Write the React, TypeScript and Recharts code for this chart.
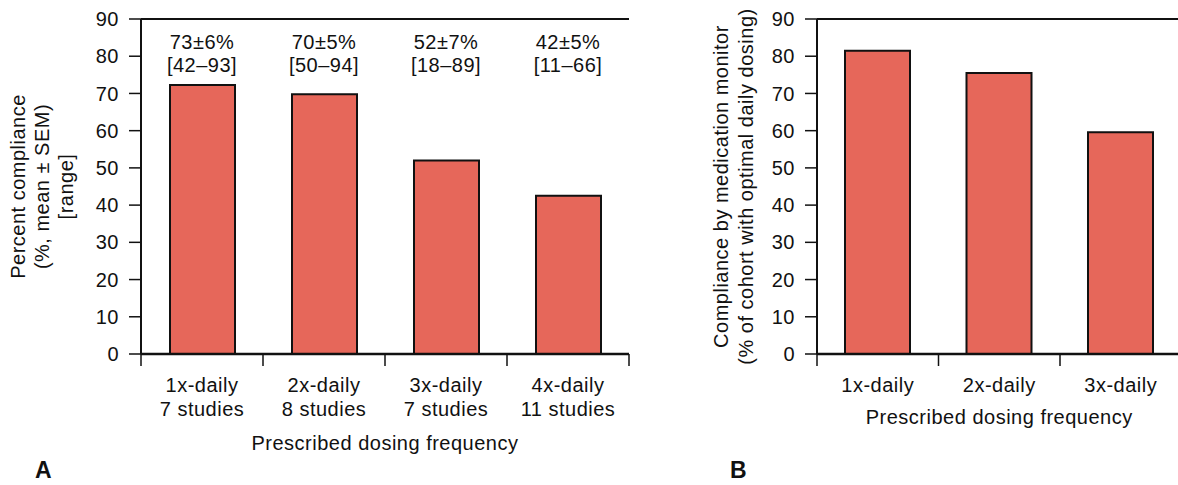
import React from "react";
import { BarChart, Bar, XAxis, YAxis } from "recharts";

// panel A: compliance by prescribed dosing frequency (meta-analysis)
const CATS_A = ["1x-daily", "2x-daily", "3x-daily", "4x-daily"];
const STUDIES_A = [7, 8, 7, 11];
const COMPLIANCE_A = [72.3, 69.8, 52, 42.5];
const MEAN_A = [73, 70, 52, 42];
const SEM_A = [6, 5, 7, 5];
const RANGE_LO_A = [42, 50, 18, 11];
const RANGE_HI_A = [93, 94, 89, 66];

// panel B: compliance by medication monitor
const CATS_B = ["1x-daily", "2x-daily", "3x-daily"];
const COMPLIANCE_B = [81.5, 75.5, 59.6];

const Y_TICKS = [0, 10, 20, 30, 40, 50, 60, 70, 80, 90];
const X_TITLE = "Prescribed dosing frequency";
const Y_TITLE_A = ["Percent compliance", "(%, mean \u00b1 SEM)", "[range]"];
const Y_TITLE_B = [
  "Compliance by medication monitor",
  "(% of cohort with optimal daily dosing)",
];

const FONT = '"Liberation Sans", Arial, Helvetica, sans-serif';
const INK = "#111";
const BAR_FILL = "#E6675A";

const dataA = CATS_A.map((name, i) => ({
  name,
  value: COMPLIANCE_A[i],
  studies: `${STUDIES_A[i]} studies`,
  mean: `${MEAN_A[i]}\u00b1${SEM_A[i]}%`,
  range: `[${RANGE_LO_A[i]}\u2013${RANGE_HI_A[i]}]`,
}));
const dataB = CATS_B.map((name, i) => ({ name, value: COMPLIANCE_B[i] }));

// category tick with boundary tick marks between bands
function BottomTick(props: any) {
  const { x, y, payload, index, band, count, sub } = props;
  return (
    <g>
      <line x1={x - band / 2} x2={x - band / 2} y1={y} y2={y + 12} stroke={INK} strokeWidth={1.5} />
      {index === count - 1 && (
        <line x1={x + band / 2} x2={x + band / 2} y1={y} y2={y + 12} stroke={INK} strokeWidth={1.5} />
      )}
      <text x={x} y={y} textAnchor="middle" fontSize={20} fill={INK}>
        <tspan x={x} dy={38}>{payload.value}</tspan>
        {sub && <tspan x={x} dy={24}>{sub[index]}</tspan>}
      </text>
    </g>
  );
}

function AnnotTick(props: any) {
  const { x, y, index } = props;
  const d = dataA[index];
  return (
    <text x={x} y={y} textAnchor="middle" fontSize={20} fill={INK}>
      <tspan x={x} dy={30}>{d.mean}</tspan>
      <tspan x={x} dy={23}>{d.range}</tspan>
    </text>
  );
}

function YTitle(props: any) {
  const { viewBox, lines, x0, step } = props;
  const cy = viewBox.y + viewBox.height / 2;
  const cx = viewBox.x + x0;
  return (
    <text
      transform={`rotate(-90 ${cx} ${cy})`}
      x={cx}
      y={cy}
      textAnchor="middle"
      fontSize={20}
      fill={INK}
    >
      {lines.map((l: string, i: number) => (
        <tspan key={i} x={cx} dy={i === 0 ? 0 : step}>
          {l}
        </tspan>
      ))}
    </text>
  );
}

const axisLine = { stroke: INK, strokeWidth: 2 };
const letterStyle: React.CSSProperties = {
  position: "absolute",
  top: 459,
  fontSize: 23,
  lineHeight: 1,
  fontWeight: 700,
  color: INK,
  letterSpacing: 0,
};

export default function App() {
  const plotA = 488;
  const plotB = 364.5;
  return (
    <div
      style={{
        position: "fixed",
        left: 0,
        top: 0,
        width: 1178,
        height: 485,
        overflow: "hidden",
        background: "#fff",
        fontFamily: FONT,
        letterSpacing: "0.5px",
      }}
    >
      <div style={{ position: "absolute", left: 0, top: 0 }}>
        <BarChart width={660} height={485} data={dataA} margin={{ top: 19, right: 31, bottom: 0, left: 0 }}>
          <XAxis
            dataKey="name"
            height={131}
            interval={0}
            tickSize={0}
            tickMargin={0}
            tickLine={false}
            axisLine={{ stroke: INK, strokeWidth: 2.5 }}
            tick={(p: any) => (
              <BottomTick {...p} band={plotA / CATS_A.length} count={CATS_A.length} sub={dataA.map((d) => d.studies)} />
            )}
            label={{ value: X_TITLE, position: "insideTop", offset: 82, fontSize: 20, fill: INK }}
          />
          <XAxis
            xAxisId="top"
            dataKey="name"
            orientation="top"
            mirror
            interval={0}
            tickSize={0}
            tickMargin={0}
            tickLine={false}
            axisLine={axisLine}
            tick={(p: any) => <AnnotTick {...p} />}
          />
          <YAxis
            width={141}
            domain={[0, 90]}
            ticks={Y_TICKS}
            interval={0}
            tickSize={12}
            tickMargin={10}
            tickLine={{ stroke: INK, strokeWidth: 1.5 }}
            axisLine={axisLine}
            tick={{ fontSize: 20, fill: INK }}
            label={(p: any) => <YTitle {...p} lines={Y_TITLE_A} x0={25} step={24} />}
          />
          <YAxis yAxisId="right" orientation="right" width={0} domain={[0, 90]} tick={false} tickLine={false} axisLine={axisLine} />
          <Bar dataKey="value" fill={BAR_FILL} stroke={INK} strokeWidth={2} barSize={65} isAnimationActive={false} />
        </BarChart>
      </div>

      <div style={{ position: "absolute", left: 660, top: 0 }}>
        <BarChart width={560} height={485} data={dataB} margin={{ top: 19, right: 560 - 157 - plotB, bottom: 0, left: 0 }}>
          <XAxis
            dataKey="name"
            height={131}
            interval={0}
            tickSize={0}
            tickMargin={0}
            tickLine={false}
            axisLine={{ stroke: INK, strokeWidth: 2.5 }}
            tick={(p: any) => <BottomTick {...p} band={plotB / CATS_B.length} count={CATS_B.length} />}
            label={{ value: X_TITLE, position: "insideTop", offset: 56, fontSize: 20, fill: INK }}
          />
          <XAxis xAxisId="top" dataKey="name" orientation="top" mirror tick={false} tickLine={false} axisLine={axisLine} />
          <YAxis
            width={157}
            domain={[0, 90]}
            ticks={Y_TICKS}
            interval={0}
            tickSize={12}
            tickMargin={10}
            tickLine={{ stroke: INK, strokeWidth: 1.5 }}
            axisLine={axisLine}
            tick={{ fontSize: 20, fill: INK }}
            label={(p: any) => <YTitle {...p} lines={Y_TITLE_B} x0={68} step={25} />}
          />
          <YAxis yAxisId="right" orientation="right" width={0} domain={[0, 90]} tick={false} tickLine={false} axisLine={axisLine} />
          <Bar dataKey="value" fill={BAR_FILL} stroke={INK} strokeWidth={2} barSize={65} isAnimationActive={false} />
        </BarChart>
      </div>

      <div style={{ ...letterStyle, left: 35 }}>A</div>
      <div style={{ ...letterStyle, left: 730 }}>B</div>
    </div>
  );
}
